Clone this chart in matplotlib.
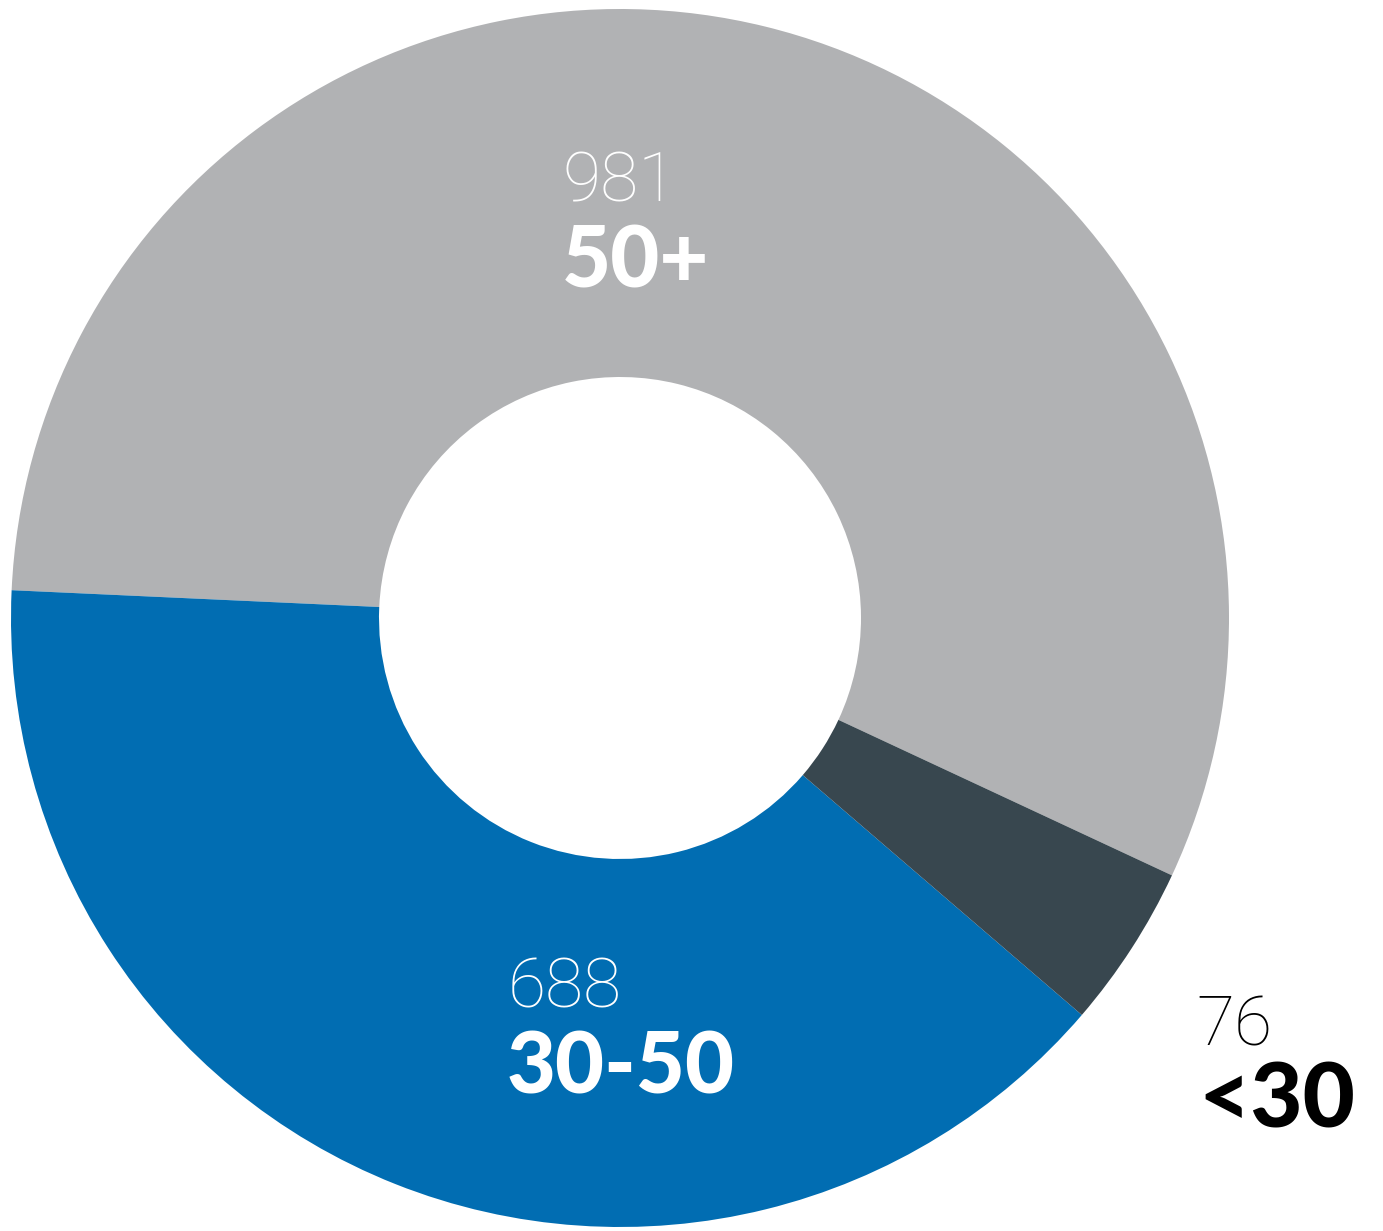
import matplotlib.pyplot as plt

# age groups
groups = ['50+', '30-50', '<30']
counts = [981, 688, 76]
colors = ['#b1b2b4', '#016db2', '#38474f']

W, H = 1383, 1231
fig = plt.figure(figsize=(W / 100, H / 100), dpi=100)
ax = fig.add_axes([0, 0, 1, 1])

cx, cy = 620, H - 618
r_out, r_in = 609, 241
ax.pie(counts, colors=colors, startangle=-25, counterclock=True,
       center=(cx, cy), radius=r_out, frame=True,
       wedgeprops=dict(width=r_out - r_in, linewidth=0))
ax.set_xlim(0, W)
ax.set_ylim(0, H)
ax.set_aspect('equal')
ax.axis('off')

# label anchors (left edge, baseline) for value and group
label_pos = [((562, 202), (562, 287)), ((508, 1007), (507, 1093)), ((1196, 1045), (1198, 1127))]
label_col = ['white', 'white', 'black']
bold_size = [61, 61, 65]

for g, n, (p1, p2), c, bs in zip(groups, counts, label_pos, label_col, bold_size):
    ax.text(p1[0], H - p1[1], str(n), color=c, fontsize=50, family='Roboto',
            weight='light', ha='left', va='baseline')
    ax.text(p2[0], H - p2[1], g, color=c, fontsize=bs, family='Lato',
            weight='black', ha='left', va='baseline')

fig.savefig('out.png', dpi=100)
